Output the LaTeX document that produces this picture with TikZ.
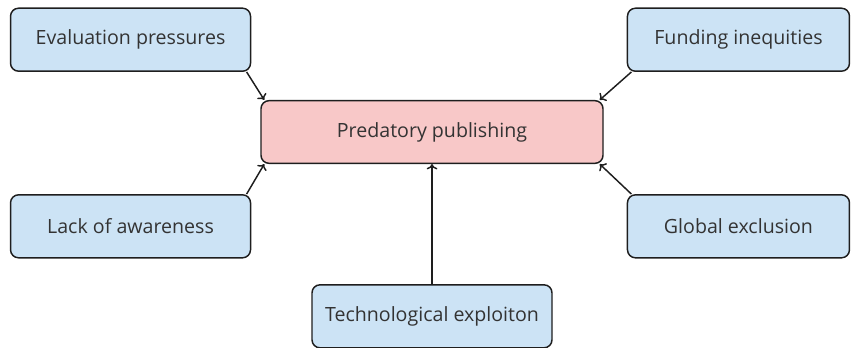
\documentclass[tikz,border=0pt]{standalone}
\usepackage{fontspec}
\setmainfont{Open Sans}
\usepackage{xcolor}
\usepackage{tikz}
\usetikzlibrary{arrows.meta, positioning}
\definecolor{causefill}{HTML}{CCE3F5}
\definecolor{corefill}{HTML}{F8C8C8}
\definecolor{edge}{HTML}{1E1E1E}
\definecolor{label}{HTML}{333333}

\begin{document}
\begin{tikzpicture}[
    node distance=1cm,
    cause/.style={rectangle, draw=edge, line width=1.1pt, fill=causefill, minimum width=180pt, minimum height=47.25pt, rounded corners=6pt, font=\fontsize{14.7}{17}\selectfont, text=label},
    core/.style={rectangle, draw=edge, line width=1.1pt, fill=corefill, minimum width=256.5pt, minimum height=47pt, rounded corners=6pt, font=\fontsize{14.7}{17}\selectfont, text=label},
    arrow/.style={line width=1.1pt, ->, >={To[length=4pt, width=8pt]}, color=edge}
]
\useasboundingbox (0,0) rectangle (644.25pt,-260.25pt);
\node[core] (pred) at (324pt,-99pt) {Predatory publishing};
\node[cause, above left=21pt and 6.75pt of pred] (eval) {Evaluation pressures};
\node[cause, below left=22.5pt and 6.75pt of pred] (lack) {Lack of awareness};
\node[cause, minimum width=166.5pt, above right=21pt and 17.25pt of pred] (fund) {Funding inequities};
\node[cause, minimum width=166.5pt, below right=22.5pt and 17.25pt of pred] (glob) {Global exclusion};
\node[cause, below=90pt of pred] (tech) {Technological exploiton};

\draw[arrow] ([xshift=-3.5pt]eval.south east) -- ([xshift=3pt]pred.north west);
\draw[arrow] ([xshift=-3.5pt]lack.north east) -- ([xshift=3pt]pred.south west);
\draw[arrow] ([xshift=3.5pt]fund.south west) -- ([xshift=-3pt]pred.north east);
\draw[arrow] ([xshift=3.5pt]glob.north west) -- ([xshift=-3pt]pred.south east);
\draw[arrow] (tech) -- (pred);
\end{tikzpicture}
\end{document}
